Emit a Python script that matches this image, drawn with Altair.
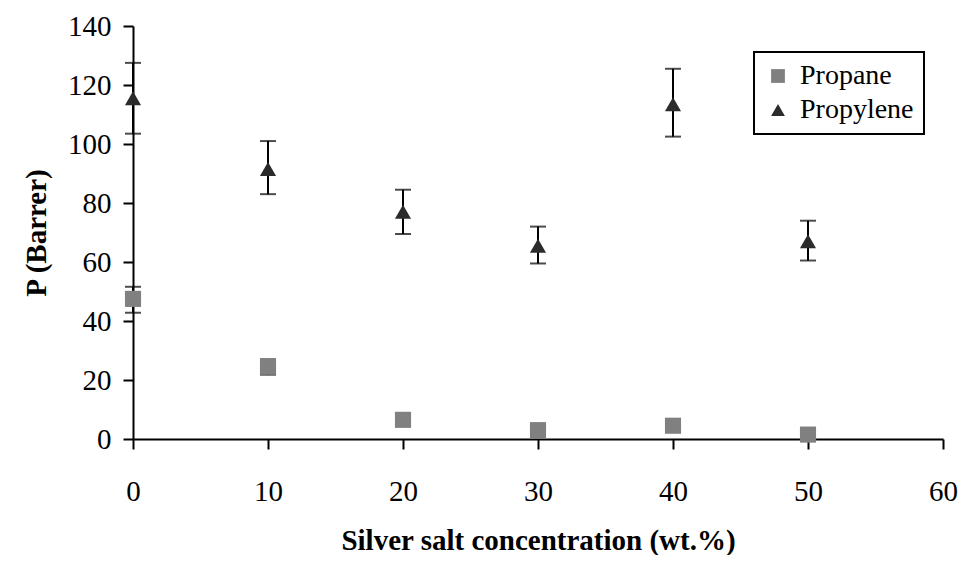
import altair as alt
import pandas as pd

conc = [0, 10, 20, 30, 40, 50]
propane = [47.5, 24.5, 6.5, 3.0, 4.5, 1.5]
propane_lo = [42.8, 21.8, 5.5, 2.0, 3.7, 1.0]
propane_hi = [51.6, 27.0, 7.5, 4.0, 5.3, 2.0]
propylene = [115.5, 91.5, 77.0, 65.5, 113.5, 67.0]
propylene_lo = [103.5, 83.0, 69.5, 59.5, 102.5, 60.5]
propylene_hi = [127.5, 101.0, 84.5, 72.0, 125.5, 74.0]

rows = []
for i, c in enumerate(conc):
    rows.append({"series": "Propane", "x": c, "y": propane[i], "lo": propane_lo[i], "hi": propane_hi[i]})
for i, c in enumerate(conc):
    rows.append({"series": "Propylene", "x": c, "y": propylene[i], "lo": propylene_lo[i], "hi": propylene_hi[i]})
df = pd.DataFrame(rows)

FONT = "Liberation Serif"

xs = alt.X("x:Q", scale=alt.Scale(domain=[0, 60], nice=False),
           axis=alt.Axis(values=[0, 10, 20, 30, 40, 50, 60], title="Silver salt concentration (wt.%)",
                         labelPadding=28, titlePadding=20, labelFlush=False))
ys = alt.Y("y:Q", scale=alt.Scale(domain=[0, 140], nice=False),
           axis=alt.Axis(values=[0, 20, 40, 60, 80, 100, 120, 140], title="P (Barrer)",
                         labelPadding=12, titlePadding=16, labelFlush=False))

base = alt.Chart(df)

rules = base.mark_rule(color="black", strokeWidth=2).encode(
    x=alt.X("x:Q"), y=alt.Y("lo:Q"), y2="hi:Q")
cap_lo = base.mark_tick(color="black", orient="horizontal", size=16, thickness=2).encode(
    x="x:Q", y="lo:Q")
cap_hi = base.mark_tick(color="black", orient="horizontal", size=16, thickness=2).encode(
    x="x:Q", y="hi:Q")

points = base.mark_point(filled=True, opacity=1, size=260).encode(
    x=xs, y=ys,
    shape=alt.Shape("series:N", scale=alt.Scale(domain=["Propane", "Propylene"],
                                                range=["square", "triangle-up"]),
                    legend=alt.Legend(title=None, orient="none", legendX=621, legendY=26)),
    color=alt.Color("series:N", scale=alt.Scale(domain=["Propane", "Propylene"],
                                                range=["#808080", "#2b2b2b"]),
                    legend=alt.Legend(title=None, orient="none", legendX=621, legendY=26)),
)

chart = alt.layer(rules, cap_lo, cap_hi, points).properties(
    width=810, height=413,
    autosize=alt.AutoSizeParams(type="none"),
    padding={"left": 125, "top": 18, "right": 15, "bottom": 116},
).configure_view(stroke=None).configure_axis(
    grid=False, domainColor="black", domainWidth=2, tickColor="black", tickWidth=2,
    tickSize=10, labelFont=FONT, labelFontSize=29, labelColor="black",
    titleFont=FONT, titleFontSize=29, titleFontWeight="bold", titleColor="black",
).configure_legend(
    strokeColor="black", strokeWidth=2, padding=10, labelFont=FONT, labelFontSize=28,
    labelColor="black", symbolSize=190, rowPadding=6, symbolType="square",
    labelOffset=8,
)

chart.save("out.html", embed_options={"renderer": "svg", "actions": False})
